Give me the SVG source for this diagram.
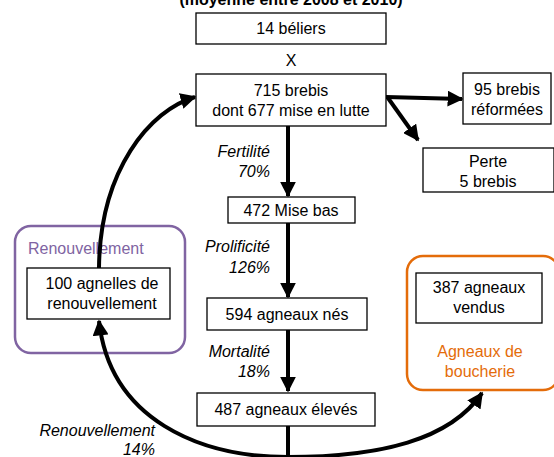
<svg xmlns="http://www.w3.org/2000/svg" width="554" height="457" viewBox="0 0 554 457">
<defs>
<style>
text{font-family:"Liberation Sans",Arial,sans-serif;font-size:16px;fill:#000}
.c{text-anchor:middle}
.l{font-style:italic;text-anchor:end}
.box{fill:#fff;stroke:#000;stroke-width:1.3}
.con{fill:none;stroke:#000;stroke-width:4}
</style>
<marker id="ah" viewBox="0 0 10 10" refX="9" refY="5" markerWidth="4" markerHeight="4" markerUnits="strokeWidth" orient="auto">
<path d="M0,0 L10,5 L0,10 Z" fill="#000"/>
</marker>
</defs>
<rect width="554" height="457" fill="#fff"/>
<text class="c" x="291" y="5" style="font-weight:bold;font-size:16px">(moyenne entre 2008 et 2010)</text>

<g id="renouvellement-group">
<rect x="15" y="226" width="170" height="127" rx="16" fill="#fff" stroke="#8064a2" stroke-width="2.5"/>
<text x="28" y="254" style="fill:#8064a2">Renouvellement</text>
</g>
<g id="boucherie-group">
<rect x="407" y="256" width="152" height="134" rx="16" fill="#fff" stroke="#e46c0a" stroke-width="2.5"/>
<text class="c" x="480" y="357" style="fill:#e46c0a">Agneaux de</text>
<text class="c" x="480" y="377" style="fill:#e46c0a">boucherie</text>
</g>

<g id="connectors">
<path class="con" d="M386,97 L462,99" marker-end="url(#ah)"/>
<path class="con" d="M388,98 L418,140" marker-end="url(#ah)"/>
<path class="con" d="M288,126 L288,196" marker-end="url(#ah)"/>
<path class="con" d="M288,223 L288,297" marker-end="url(#ah)"/>
<path class="con" d="M288,330 L288,391" marker-end="url(#ah)"/>
<path class="con" d="M288,426 L288,457"/>
<path class="con" d="M288,457 C200,457 110,420 99,321" marker-end="url(#ah)"/>
<path class="con" d="M288,457 C380,457 450,440 482,393" marker-end="url(#ah)"/>
<path class="con" d="M99,268 C100,170 150,110 195,97" marker-end="url(#ah)"/>
</g>

<g id="beliers"><rect class="box" x="196" y="13" width="190" height="31"/><text class="c" x="291" y="34">14 béliers</text></g>
<g id="x-label"><text class="c" x="291" y="66">X</text></g>
<g id="brebis"><rect class="box" x="196" y="74" width="190" height="52"/><text class="c" x="291" y="96">715 brebis</text><text class="c" x="291" y="116">dont 677 mise en lutte</text></g>
<g id="reformees"><rect class="box" x="463" y="73" width="88" height="51"/><text class="c" x="507" y="95">95 brebis</text><text class="c" x="507" y="115">réformées</text></g>
<g id="perte"><rect class="box" x="423" y="148" width="131" height="44"/><text class="c" x="488" y="167">Perte</text><text class="c" x="488" y="187">5 brebis</text></g>
<g id="misebas"><rect class="box" x="228" y="197" width="127" height="26"/><text class="c" x="291" y="216">472 Mise bas</text></g>
<g id="nes"><rect class="box" x="207" y="298" width="160" height="32"/><text class="c" x="287" y="320">594 agneaux nés</text></g>
<g id="eleves"><rect class="box" x="197" y="393" width="178" height="33"/><text class="c" x="286" y="415">487 agneaux élevés</text></g>
<g id="agnelles"><rect class="box" x="27" y="268" width="143" height="51"/><text class="c" x="102" y="289">100 agnelles de</text><text class="c" x="102" y="309">renouvellement</text></g>
<g id="vendus"><rect class="box" x="416" y="273" width="126" height="50"/><text class="c" x="479" y="293">387 agneaux</text><text class="c" x="479" y="313">vendus</text></g>

<g id="rates">
<text class="l" x="270" y="157">Fertilité</text><text class="l" x="270" y="177">70%</text>
<text class="l" x="270" y="252">Prolificité</text><text class="l" x="270" y="273">126%</text>
<text class="l" x="270" y="357">Mortalité</text><text class="l" x="270" y="377">18%</text>
<text class="l" x="155" y="436">Renouvellement</text><text class="l" x="155" y="455">14%</text>
</g>
</svg>
